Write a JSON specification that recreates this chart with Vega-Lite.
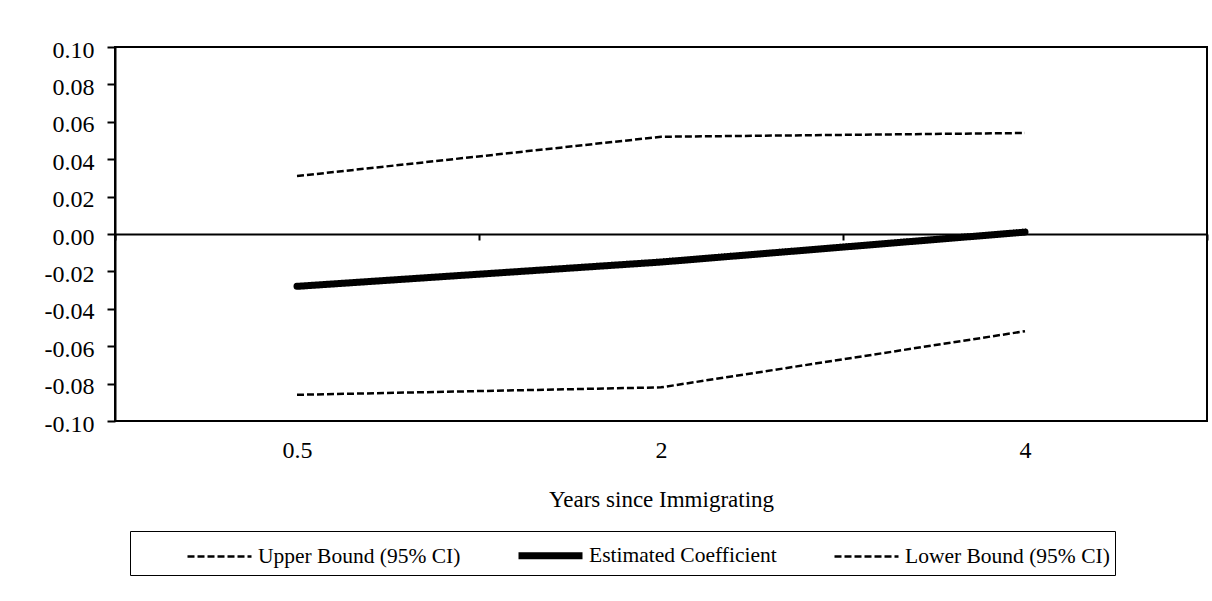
{
  "$schema": "https://vega.github.io/schema/vega-lite/v6.json",
  "width": 1092,
  "height": 374,
  "autosize": {"type": "none"},
  "padding": {"left": 115, "top": 47, "right": 5, "bottom": 180},
  "background": "white",
  "config": {
    "font": "Liberation Serif",
    "view": {"stroke": "black", "strokeWidth": 2},
    "axis": {
      "labelFont": "Liberation Serif",
      "titleFont": "Liberation Serif",
      "labelColor": "black",
      "titleColor": "black",
      "grid": false,
      "domainColor": "black",
      "tickColor": "black",
      "domainWidth": 2,
      "tickWidth": 2
    }
  },
  "data": {
    "values": [
      {"years": "0.5", "series": "Upper Bound (95% CI)", "value": 0.031},
      {"years": "2", "series": "Upper Bound (95% CI)", "value": 0.052},
      {"years": "4", "series": "Upper Bound (95% CI)", "value": 0.054},
      {"years": "0.5", "series": "Estimated Coefficient", "value": -0.028},
      {"years": "2", "series": "Estimated Coefficient", "value": -0.015},
      {"years": "4", "series": "Estimated Coefficient", "value": 0.001},
      {"years": "0.5", "series": "Lower Bound (95% CI)", "value": -0.086},
      {"years": "2", "series": "Lower Bound (95% CI)", "value": -0.082},
      {"years": "4", "series": "Lower Bound (95% CI)", "value": -0.052}
    ]
  },
  "layer": [
    {
      "mark": {"type": "rect", "opacity": 0},
      "encoding": {
        "x": {
          "field": "years",
          "type": "ordinal",
          "sort": ["0.5", "2", "4"],
          "scale": {"type": "band", "paddingInner": 0, "paddingOuter": 0},
          "axis": {
            "orient": "bottom",
            "offset": -187,
            "tickBand": "extent",
            "tickSize": 6,
            "labelAngle": 0,
            "labelFontSize": 24,
            "labelBaseline": "alphabetic",
            "labelPadding": 217,
            "title": "Years since Immigrating",
            "titleFontSize": 23,
            "titleFontWeight": "normal",
            "titleBaseline": "alphabetic",
            "titleY": 272
          }
        }
      }
    },
    {
      "encoding": {
        "x": {
          "field": "years",
          "type": "ordinal",
          "sort": ["0.5", "2", "4"],
          "scale": {"type": "point", "padding": 0.5},
          "axis": null
        },
        "y": {
          "field": "value",
          "type": "quantitative",
          "scale": {"domain": [-0.1, 0.1], "nice": false, "zero": false},
          "axis": {
            "title": null,
            "values": [-0.1, -0.08, -0.06, -0.04, -0.02, 0, 0.02, 0.04, 0.06, 0.08, 0.1],
            "labelExpr": "(datum.value < -0.0001 ? '-' : '') + format(abs(datum.value), '.2f')",
            "tickSize": 8,
            "labelPadding": 13,
            "labelOffset": 3,
            "labelFontSize": 24
          }
        },
        "strokeDash": {
          "field": "series",
          "type": "nominal",
          "scale": {
            "domain": ["Upper Bound (95% CI)", "Estimated Coefficient", "Lower Bound (95% CI)"],
            "range": [[7, 3], [1, 0], [7, 3]]
          },
          "legend": {
            "orient": "none",
            "legendX": 15,
            "legendY": 484,
            "direction": "horizontal",
            "columns": 3,
            "title": null,
            "strokeColor": "black",
            "padding": 5,
            "symbolType": "M-2,0H2",
            "symbolSize": 1024,
            "symbolOffset": 65,
            "symbolStrokeColor": "black",
            "labelOffset": 19,
            "labelLimit": 400,
            "columnPadding": 5,
            "labelFont": "Liberation Serif",
            "labelFontSize": 21.5,
            "labelColor": "black"
          }
        },
        "strokeWidth": {
          "field": "series",
          "type": "nominal",
          "scale": {
            "type": "ordinal",
            "domain": ["Upper Bound (95% CI)", "Estimated Coefficient", "Lower Bound (95% CI)"],
            "range": [2.5, 7, 2.5]
          }
        }
      },
      "layer": [
        {
          "transform": [{"filter": "datum.series !== 'Estimated Coefficient'"}],
          "mark": {"type": "line", "color": "black", "strokeCap": "butt"}
        },
        {
          "transform": [{"filter": "datum.series === 'Estimated Coefficient'"}],
          "mark": {"type": "line", "color": "black", "strokeCap": "round"}
        }
      ]
    }
  ],
  "resolve": {"scale": {"x": "independent"}, "axis": {"x": "independent"}}
}
